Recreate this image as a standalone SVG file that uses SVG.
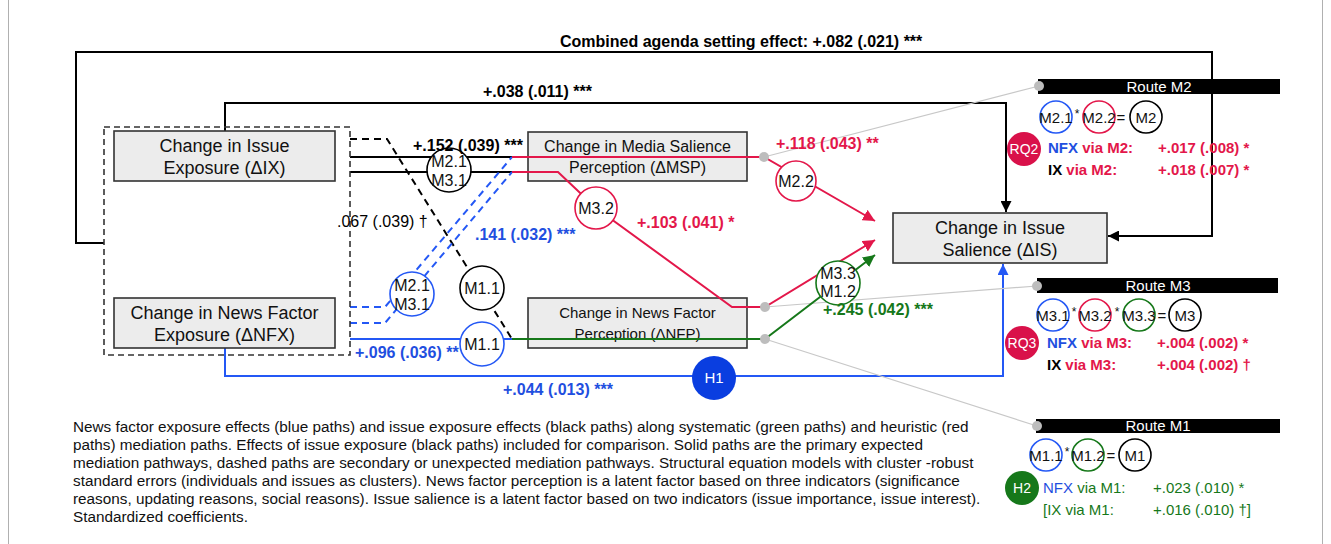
<svg xmlns="http://www.w3.org/2000/svg" width="1331" height="544" viewBox="0 0 1331 544">
<style>
text{font-family:"Liberation Sans",Arial,sans-serif;}
.box{fill:#ececec;stroke:#333;stroke-width:1.6;}
.bt{font-size:18px;fill:#111;text-anchor:middle;}
.bts{font-size:16px;fill:#111;text-anchor:middle;}
.lbl{font-size:16px;font-weight:bold;}
.k{fill:#000;} .r{fill:#e3174a;} .b{fill:#1f4fe0;} .g{fill:#16781a;}
.ln{fill:none;stroke-width:2;}
.sk{stroke:#000;} .sr{stroke:#e3174a;} .sb{stroke:#2458f5;} .sg{stroke:#16781a;}
.dash{stroke-dasharray:7,5;}
.gray{fill:none;stroke:#c8c8c8;stroke-width:1.2;}
.dot{fill:#bdbdbd;}
.mc{fill:#fff;stroke-width:1.6;}
.mt{font-size:16px;fill:#111;text-anchor:middle;}
.ft{font-size:15px;fill:#111;text-anchor:middle;}
.star{font-size:12px;fill:#111;text-anchor:middle;}
.bar{fill:#000;}
.bartx{font-size:15px;fill:#fff;text-anchor:middle;}
.badge{font-size:14px;fill:#fff;text-anchor:middle;}
.rt{font-size:15px;font-weight:bold;}
.rtn{font-size:15px;}
.cap{font-size:15.3px;fill:#111;}
</style>
<defs>
<marker id="ak" viewBox="0 0 10 10" refX="10" refY="5" markerWidth="11" markerHeight="11" markerUnits="userSpaceOnUse" orient="auto"><path d="M0,0 L10,5 L0,10 z" fill="#000"/></marker>
<marker id="ar" viewBox="0 0 10 10" refX="10" refY="5" markerWidth="12" markerHeight="12" markerUnits="userSpaceOnUse" orient="auto"><path d="M0,0 L10,5 L0,10 z" fill="#e3174a"/></marker>
<marker id="ag" viewBox="0 0 10 10" refX="10" refY="5" markerWidth="12" markerHeight="12" markerUnits="userSpaceOnUse" orient="auto"><path d="M0,0 L10,5 L0,10 z" fill="#16781a"/></marker>
<marker id="ab" viewBox="0 0 10 10" refX="10" refY="5" markerWidth="11" markerHeight="11" markerUnits="userSpaceOnUse" orient="auto"><path d="M0,0 L10,5 L0,10 z" fill="#2458f5"/></marker>
</defs>
<rect x="0" y="0" width="1331" height="544" fill="#fff"/>
<line x1="8.5" y1="0" x2="8.5" y2="544" stroke="#b0b0b0" stroke-width="1"/>
<line x1="1322.5" y1="0" x2="1322.5" y2="544" stroke="#b0b0b0" stroke-width="1"/>

<g id="connectors">
<path class="ln sk" d="M104,243 H76 V52 H1212 V236 H1108" marker-end="url(#ak)"/>
<path class="ln sk" d="M225,131 V103 H1006 V212" marker-end="url(#ak)"/>
<path class="ln sk" d="M350,157 H512"/>
<path class="ln sk" d="M350,172 H512"/>
<path class="ln sk dash" d="M350,139 H387 L512,339"/>
<path class="ln sb dash" d="M350,307 H385 L512,157"/>
<path class="ln sb dash" d="M350,323 H385 L512,172"/>
<path class="ln sb" d="M350,339 H512"/>
<path class="ln sb" d="M225,348 V376 H1003 V264" marker-end="url(#ab)"/>
<path class="gray" d="M764,157 L1039,86"/>
<path class="gray" d="M765,307 L1037,286"/>
<path class="gray" d="M765,339 L1037,426"/>
</g>

<g id="dashed-group">
<rect x="104" y="127" width="246" height="228" fill="none" stroke="#333" stroke-width="1.6" stroke-dasharray="6,4"/>
</g>

<g id="node-ix">
<rect class="box" x="114" y="131" width="221" height="50"/>
<text class="bt" x="224.5" y="152">Change in Issue</text>
<text class="bt" x="224.5" y="174">Exposure (ΔIX)</text>
</g>
<g id="node-nfx">
<rect class="box" x="114" y="298" width="221" height="50"/>
<text class="bt" x="224.5" y="319">Change in News Factor</text>
<text class="bt" x="224.5" y="341">Exposure (ΔNFX)</text>
</g>
<g id="node-msp">
<rect class="box" x="528" y="132" width="219" height="49"/>
<text class="bts" x="637.5" y="152">Change in Media Salience</text>
<text class="bts" x="637.5" y="173">Perception (ΔMSP)</text>
</g>
<g id="node-nfp">
<rect class="box" x="528" y="298" width="219" height="50"/>
<text class="bt" style="font-size:15px" x="637.5" y="318">Change in News Factor</text>
<text class="bt" style="font-size:15px" x="637.5" y="339">Perception (ΔNFP)</text>
</g>
<g id="node-is">
<rect class="box" x="893" y="213" width="214" height="50"/>
<text class="bt" x="1000" y="234">Change in Issue</text>
<text class="bt" x="1000" y="256">Salience (ΔIS)</text>
</g>

<g id="paths-over">
<path class="ln sr" d="M512,157 H764 L875,221" marker-end="url(#ar)"/>
<path class="ln sr" d="M512,172 H558 L596,208 L732,307 H765 L875,240" marker-end="url(#ar)"/>
<path class="ln sg" d="M512,339 H765 L875,255" marker-end="url(#ag)"/>
<circle class="dot" cx="764" cy="157" r="5"/>
<circle class="dot" cx="765" cy="307" r="5"/>
<circle class="dot" cx="765" cy="339" r="5"/>
</g>

<g id="mediators">
<g id="m-k-2131"><circle class="mc sk" cx="449" cy="170" r="22"/><text class="mt" x="449" y="167">M2.1</text><text class="mt" x="449" y="186">M3.1</text></g>
<g id="m-b-2131"><circle class="mc sb" cx="412" cy="294" r="22"/><text class="mt" x="412" y="291">M2.1</text><text class="mt" x="412" y="310">M3.1</text></g>
<g id="m-k-11"><circle class="mc sk" cx="482" cy="288" r="22"/><text class="mt" x="482" y="294">M1.1</text></g>
<g id="m-b-11"><circle class="mc sb" cx="482" cy="344" r="22"/><text class="mt" x="482" y="350">M1.1</text></g>
<g id="m-r-32"><circle class="mc sr" cx="596" cy="208" r="21"/><text class="mt" x="596" y="214">M3.2</text></g>
<g id="m-r-22"><circle class="mc sr" cx="796" cy="181" r="20"/><text class="mt" x="796" y="187">M2.2</text></g>
<g id="m-g-3312"><circle class="mc sg" cx="838" cy="283" r="22"/><text class="mt" x="838" y="279">M3.3</text><text class="mt" x="838" y="297">M1.2</text></g>
<g id="h1"><circle cx="714" cy="378" r="22" fill="#0a3ee0"/><text class="badge" style="font-size:15px" x="714" y="383">H1</text></g>
</g>

<g id="labels">
<text class="lbl k" x="560" y="47">Combined agenda setting effect: +.082 (.021) ***</text>
<text class="lbl k" x="483" y="97">+.038 (.011) ***</text>
<text class="lbl k" x="413" y="151">+.152 (.039) ***</text>
<text class="k" style="font-size:16px" x="337" y="227">.067 (.039) †</text>
<text class="lbl b" x="475" y="240">.141 (.032) ***</text>
<text class="lbl r" x="776" y="149">+.118 (.043) **</text>
<text class="lbl r" x="637" y="228">+.103 (.041) *</text>
<text class="lbl g" x="823" y="315">+.245 (.042) ***</text>
<text class="lbl b" x="355" y="358">+.096 (.036) **</text>
<text class="lbl b" x="503" y="395">+.044 (.013) ***</text>
</g>

<g id="route-m2">
<rect class="bar" x="1038" y="79" width="242" height="15"/>
<circle class="dot" cx="1039" cy="86" r="5"/>
<text class="bartx" x="1159" y="92">Route M2</text>
<circle class="mc sb" cx="1056" cy="117" r="16"/><circle class="mc sr" cx="1099" cy="117" r="16"/><circle class="mc sk" cx="1146" cy="117" r="16"/>
<text class="ft" x="1056" y="123">M2.1</text><text class="star" x="1077" y="118">*</text><text class="ft" x="1099" y="123">M2.2</text><text class="ft" x="1121" y="123">=</text><text class="ft" x="1146" y="123">M2</text>
<circle cx="1024" cy="149" r="17" fill="#d9114a"/><text class="badge" x="1024" y="154">RQ2</text>
<text class="rt" x="1048" y="153"><tspan class="b">NFX</tspan><tspan class="r"> via M2:</tspan></text>
<text class="rt r" x="1158" y="153">+.017 (.008) *</text>
<text class="rt" x="1048" y="175"><tspan class="k">IX</tspan><tspan class="r"> via M2:</tspan></text>
<text class="rt r" x="1158" y="175">+.018 (.007) *</text>
</g>

<g id="route-m3">
<rect class="bar" x="1037" y="278" width="241" height="15"/>
<circle class="dot" cx="1037" cy="286" r="5"/>
<text class="bartx" x="1158" y="291">Route M3</text>
<circle class="mc sb" cx="1053" cy="315" r="16"/><circle class="mc sr" cx="1095" cy="315" r="16"/><circle class="mc sg" cx="1139" cy="315" r="16"/><circle class="mc sk" cx="1185" cy="315" r="16"/>
<text class="ft" x="1053" y="321">M3.1</text><text class="star" x="1074" y="316">*</text><text class="ft" x="1095" y="321">M3.2</text><text class="star" x="1117" y="316">*</text><text class="ft" x="1139" y="321">M3.3</text><text class="ft" x="1162" y="321">=</text><text class="ft" x="1185" y="321">M3</text>
<circle cx="1022" cy="343" r="17" fill="#d9114a"/><text class="badge" x="1022" y="348">RQ3</text>
<text class="rt" x="1047" y="348"><tspan class="b">NFX</tspan><tspan class="r"> via M3:</tspan></text>
<text class="rt r" x="1157" y="348">+.004 (.002) *</text>
<text class="rt" x="1047" y="370"><tspan class="k">IX</tspan><tspan class="r"> via M3:</tspan></text>
<text class="rt r" x="1157" y="370">+.004 (.002) †</text>
</g>

<g id="route-m1">
<rect class="bar" x="1036" y="419" width="244" height="14"/>
<circle class="dot" cx="1037" cy="426" r="5"/>
<text class="bartx" x="1158" y="431">Route M1</text>
<circle class="mc sb" cx="1046" cy="455" r="16"/><circle class="mc sg" cx="1088" cy="455" r="16"/><circle class="mc sk" cx="1135" cy="455" r="16"/>
<text class="ft" x="1046" y="461">M1.1</text><text class="star" x="1067" y="456">*</text><text class="ft" x="1088" y="461">M1.2</text><text class="ft" x="1111" y="461">=</text><text class="ft" x="1135" y="461">M1</text>
<circle cx="1022" cy="488" r="17" fill="#16781a"/><text class="badge" x="1022" y="493">H2</text>
<text class="rtn" x="1043" y="493"><tspan class="b">NFX</tspan><tspan class="g"> via M1:</tspan></text>
<text class="rtn g" x="1153" y="493">+.023 (.010) *</text>
<text class="rtn g" x="1043" y="515">[IX via M1:</text>
<text class="rtn g" x="1153" y="515">+.016 (.010) †]</text>
</g>

<g id="caption">
<text class="cap" x="73" y="432">News factor exposure effects (blue paths) and issue exposure effects (black paths) along systematic (green paths) and heuristic (red</text>
<text class="cap" x="73" y="450">paths) mediation paths. Effects of issue exposure (black paths) included for comparison. Solid paths are the primary expected</text>
<text class="cap" x="73" y="468">mediation pathways, dashed paths are secondary or unexpected mediation pathways. Structural equation models with cluster -robust</text>
<text class="cap" x="73" y="486">standard errors (individuals and issues as clusters).  News factor perception is a latent factor based on three indicators (significance</text>
<text class="cap" x="73" y="504">reasons, updating reasons, social reasons). Issue salience is a latent factor based on two indicators (issue importance, issue interest).</text>
<text class="cap" x="73" y="522">Standardized coefficients.</text>
</g>
</svg>
